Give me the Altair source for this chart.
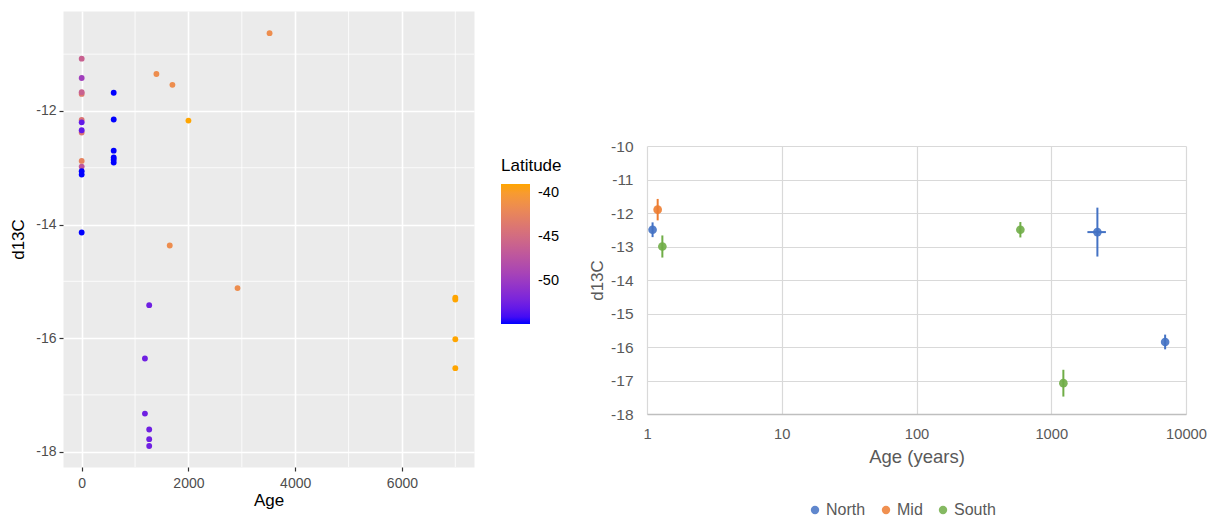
import altair as alt
import pandas as pd

# ---------------- left panel: individual samples ----------------
sample_age = [
    0, 0, 0, 0, 0, 0, 0, 0, 0, 0, 0, 0, 0,
    600, 600, 600, 600, 600, 600,
    3520, 1400, 1700, 2000, 1650, 2920,
    1265, 1185, 1185, 1265, 1265, 1265,
    7000, 7000, 7000, 7000,
]
sample_d13c = [
    -11.08, -11.42, -11.70, -11.67, -12.16, -12.20, -12.38, -12.34, -12.88, -12.98, -13.06, -13.12, -14.14,
    -11.68, -12.15, -12.70, -12.82, -12.86, -12.91,
    -10.63, -11.35, -11.54, -12.17, -14.37, -15.12,
    -15.42, -16.36, -17.33, -17.61, -17.78, -17.90,
    -15.29, -15.32, -16.02, -16.53,
]
sample_lat = [
    -46.0, -49.5, -43.5, -46.0, -44.0, -53.0, -44.0, -53.0, -42.5, -47.0, -54.8, -54.8, -54.8,
    -54.8, -54.8, -54.8, -54.8, -54.8, -54.8,
    -41.5, -41.5, -41.5, -39.0, -41.5, -41.5,
    -52.5, -52.5, -52.5, -52.5, -52.5, -52.5,
    -39.0, -39.0, -39.0, -39.0,
]
left_x_major = [0, 2000, 4000, 6000]
left_x_minor = [1000, 3000, 5000, 7000]
left_y_major = [-18, -16, -14, -12]
left_y_minor = [-17, -15, -13, -11]
lat_ticks = [-50, -45, -40]

# ---------------- right panel: regional means ----------------
region = ["North", "Mid", "South", "South", "North", "North", "South"]
mean_age = [1.1, 1.2, 1.3, 590, 2200, 7000, 1230]
mean_d13c = [-12.5, -11.9, -13.0, -12.5, -12.57, -15.85, -17.08]
d13c_err = [0.22, 0.32, 0.33, 0.23, 0.73, 0.22, 0.40]
age_err = [0, 0, 0, 0, 345, 0, 0]
region_order = ["North", "Mid", "South"]
region_colors = ["#4472C4", "#ED7D31", "#70AD47"]
right_x_ticks = [1, 10, 100, 1000, 10000]
right_y_ticks = [-18, -17, -16, -15, -14, -13, -12, -11, -10]

FONT = "Liberation Sans"

samples = pd.DataFrame({"Age": sample_age, "d13C": sample_d13c, "Latitude": sample_lat})
means = pd.DataFrame({
    "Region": region, "Age": mean_age, "d13C": mean_d13c,
    "yerr": d13c_err, "xerr": age_err,
})

# ggplot-like panel
lx = alt.Scale(domain=[-350, 7350], nice=False, zero=False)
ly = alt.Scale(domain=[-18.27, -10.24], nice=False, zero=False)

gg_axis = dict(
    grid=True, gridColor="white", gridWidth=1.6, domain=False,
    tickColor="#333333", tickSize=4, tickWidth=1.2,
    labelColor="#4D4D4D", labelFontSize=14, labelFont=FONT,
    labelOverlap=False, labelFlush=False,
    titleFontSize=17, titleColor="black", titleFontWeight="normal", titleFont=FONT,
    labelExpr="datum.value + ''",
)
left_x_axis = alt.Axis(values=left_x_major, title="Age", labelPadding=5, titlePadding=2, **gg_axis)
left_y_axis = alt.Axis(values=left_y_major, title="d13C", labelPadding=3, titlePadding=8, **gg_axis)

minor_x = alt.Chart(pd.DataFrame({"Age": left_x_minor})).mark_rule(
    color="white", strokeWidth=0.8
).encode(x=alt.X("Age:Q", scale=lx, axis=left_x_axis))

minor_y = alt.Chart(pd.DataFrame({"d13C": left_y_minor})).mark_rule(
    color="white", strokeWidth=0.8
).encode(y=alt.Y("d13C:Q", scale=ly, axis=left_y_axis))

points = alt.Chart(samples).mark_circle(size=34, opacity=1).encode(
    x=alt.X("Age:Q", scale=lx, axis=left_x_axis),
    y=alt.Y("d13C:Q", scale=ly, axis=left_y_axis),
    color=alt.Color(
        "Latitude:Q",
        scale=alt.Scale(domain=[-54.8, -39.0], range=["#0000FF", "#FFA500"], interpolate="lab", nice=False),
        legend=alt.Legend(
            title="Latitude", orient="none", legendX=438, legendY=147, direction="vertical",
            values=lat_ticks, labelExpr="datum.value + ''",
            gradientLength=140, gradientThickness=29, gradientStrokeWidth=0,
            titleFontSize=17, titleFont=FONT, titleFontWeight="normal", titleColor="black", titlePadding=9,
            labelFontSize=14.5, labelFont=FONT, labelColor="black", labelOffset=8, padding=0,
        ),
    ),
)

left = alt.layer(minor_x, minor_y, points).properties(
    width=411, height=456,
    view=alt.ViewBackground(fill="#EBEBEB", strokeOpacity=0),
)

# Excel-like panel
rx = alt.Scale(type="log", domain=[1, 10000], nice=False)
ry = alt.Scale(domain=[-18, -10], nice=False, zero=False)
rcolor = alt.Scale(domain=region_order, range=region_colors)

xl_axis = dict(
    grid=True, gridColor="#D9D9D9", gridWidth=1.2, ticks=False,
    labelOverlap=False, labelFlush=False,
    labelColor="#595959", labelFont=FONT,
    titleColor="#595959", titleFontWeight="normal", titleFont=FONT,
)
right_x_axis = alt.Axis(values=right_x_ticks, format="d", title="Age (years)",
                        domainColor="#BFBFBF", domainWidth=1.5, labelFontSize=14.7,
                        labelPadding=12, titleFontSize=18.5, titlePadding=7, **xl_axis)
right_y_axis = alt.Axis(values=right_y_ticks, title="d13C", domain=False,
                        labelExpr="datum.value + ''", labelFontSize=15.5,
                        labelPadding=14, titleFontSize=17, titlePadding=4, **xl_axis)

base = alt.Chart(means).transform_calculate(
    lo="datum.d13C - datum.yerr", hi="datum.d13C + datum.yerr",
    alo="datum.Age - datum.xerr", ahi="datum.Age + datum.xerr",
)

mean_pts = base.mark_circle(size=75, opacity=0.9).encode(
    x=alt.X("Age:Q", scale=rx, axis=right_x_axis),
    y=alt.Y("d13C:Q", scale=ry, axis=right_y_axis),
    color=alt.Color(
        "Region:N", scale=rcolor, sort=region_order,
        legend=alt.Legend(
            title=None, orient="none", direction="horizontal", legendX=160, legendY=491,
            symbolType="circle", symbolSize=70, symbolStrokeWidth=0, symbolOpacity=0.85,
            labelFontSize=16, labelFont=FONT, labelColor="#595959",
            labelOffset=3, columnPadding=12, padding=0,
        ),
    ),
)

y_bars = base.mark_rule(strokeWidth=2).encode(
    x=alt.X("Age:Q", scale=rx, axis=right_x_axis),
    y=alt.Y("lo:Q", scale=ry, axis=right_y_axis),
    y2="hi:Q",
    color=alt.Color("Region:N", scale=rcolor, legend=None),
)

x_bars = base.transform_filter("datum.xerr > 0").mark_rule(strokeWidth=2).encode(
    x=alt.X("alo:Q", scale=rx, axis=right_x_axis),
    x2="ahi:Q",
    y=alt.Y("d13C:Q", scale=ry, axis=right_y_axis),
    color=alt.Color("Region:N", scale=rcolor, legend=None),
)

right = alt.layer(mean_pts, y_bars, x_bars).properties(width=539, height=268)

# empty block that lowers the right panel inside its column
spacer = alt.Chart(pd.DataFrame({"a": [0]})).mark_point(opacity=0).encode(
    x=alt.value(60), y=alt.value(60)
).properties(width=539, height=128)

right_col = alt.vconcat(spacer, right, spacing=0)

chart = alt.hconcat(left, right_col, spacing=26).resolve_scale(
    color="independent"
).configure(
    font=FONT,
    padding={"left": 9, "top": 10, "right": 5, "bottom": 0},
    background="white",
).configure_view(strokeOpacity=0)

chart.save("out.html", embed_options={"renderer": "svg", "actions": False})
